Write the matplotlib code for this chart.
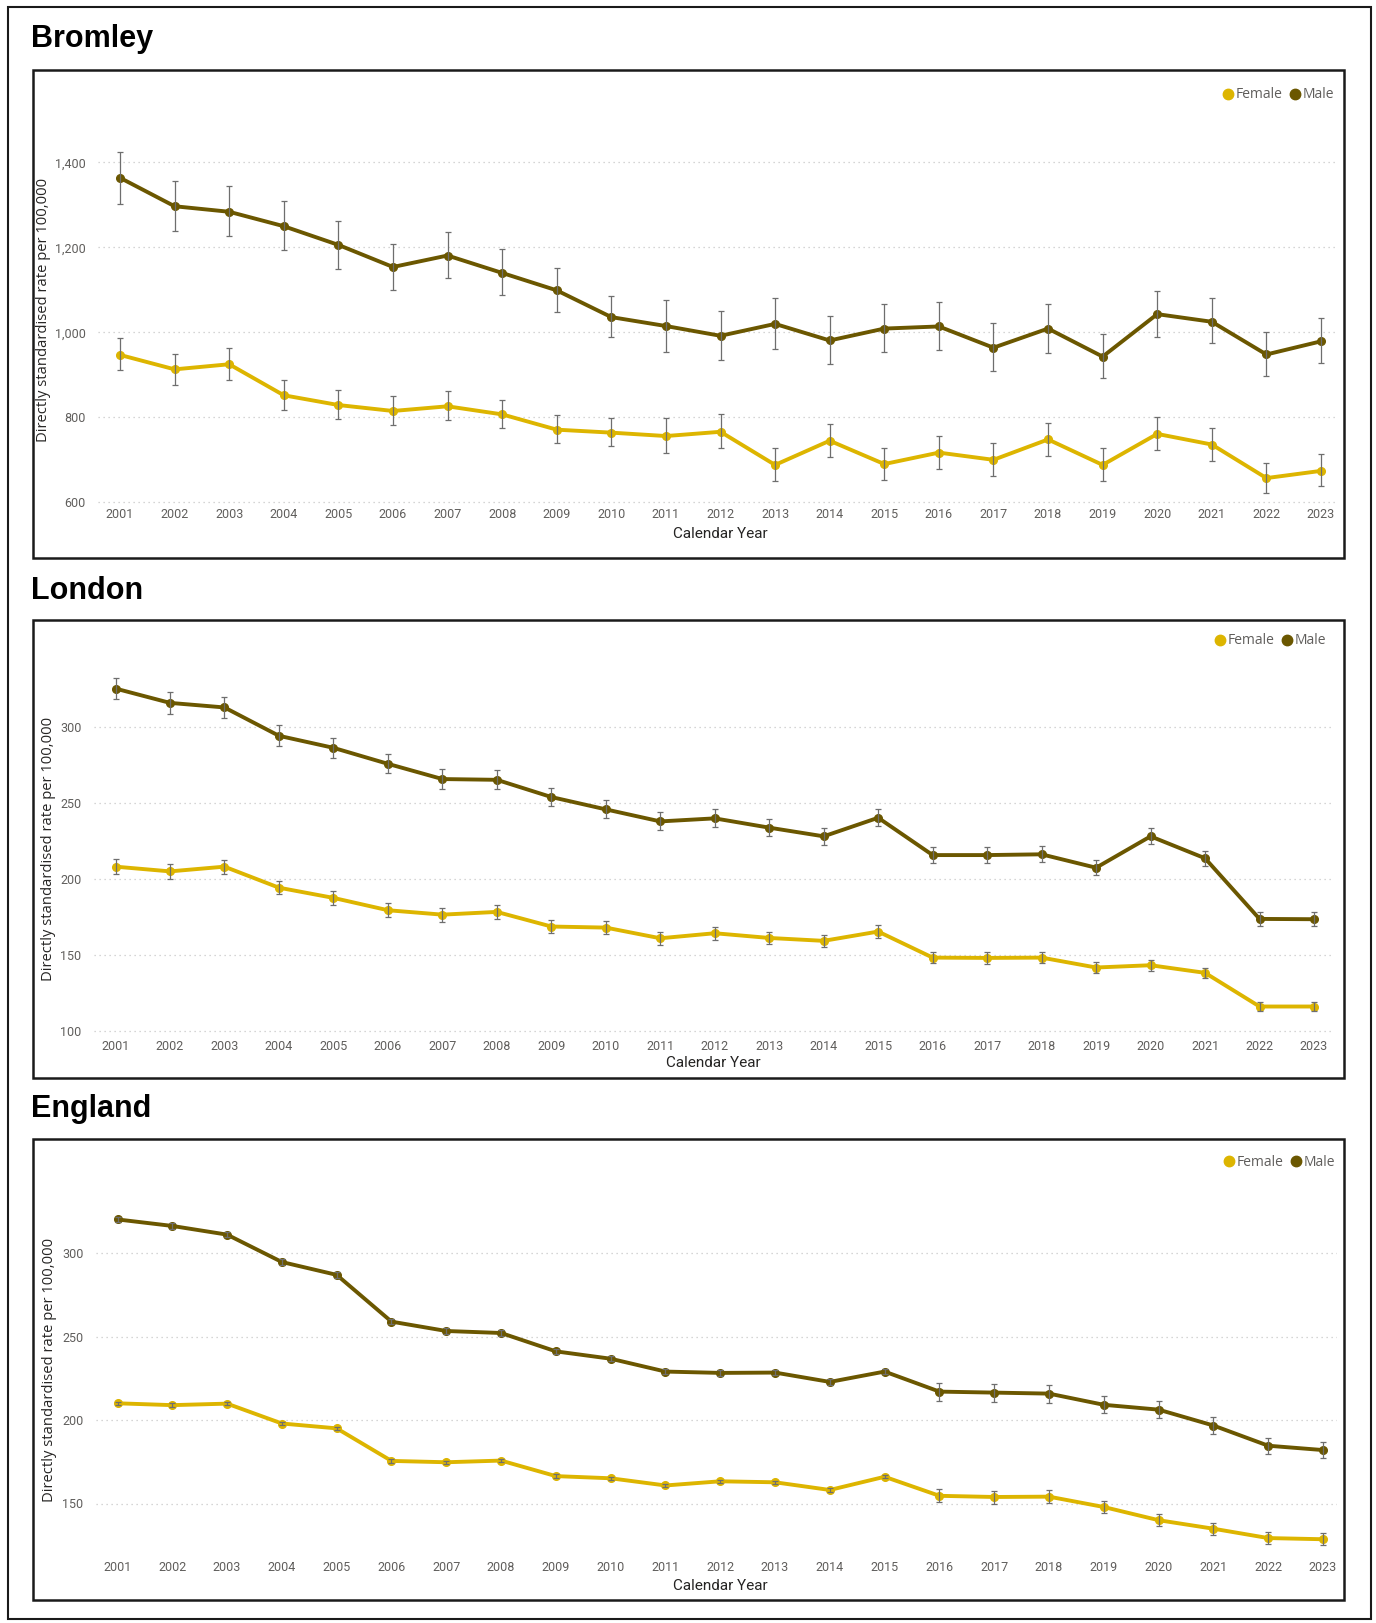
import matplotlib.pyplot as plt
import numpy as np
from matplotlib.lines import Line2D
from matplotlib.patches import Rectangle

years = list(range(2001, 2024))
year_labels = [str(y) for y in years]
series_names = ["Female", "Male"]

# Bromley
bromley_male = [1364, 1297, 1284, 1250, 1206, 1154, 1181, 1140, 1099, 1036, 1015, 992,
                1020, 981, 1009, 1014, 964, 1009, 943, 1043, 1025, 948, 979]
bromley_male_lo = [1303, 1239, 1226, 1193, 1150, 1101, 1128, 1088, 1047, 989, 955, 935,
                   962, 925, 953, 959, 910, 952, 892, 988, 976, 897, 927]
bromley_male_hi = [1425, 1356, 1345, 1309, 1263, 1209, 1236, 1196, 1151, 1086, 1076, 1051,
                   1081, 1038, 1067, 1072, 1021, 1066, 997, 1098, 1081, 1001, 1034]
bromley_female = [947, 913, 925, 852, 829, 815, 826, 807, 771, 764, 756, 766,
                  688, 745, 690, 717, 700, 748, 688, 761, 736, 657, 674]
bromley_female_lo = [911, 877, 889, 818, 796, 782, 793, 774, 740, 732, 716, 727,
                     650, 707, 652, 678, 663, 709, 651, 723, 697, 621, 639]
bromley_female_hi = [986, 950, 963, 887, 865, 850, 861, 841, 805, 798, 798, 808,
                     727, 785, 729, 756, 739, 787, 727, 802, 776, 693, 713]

# London
london_male = [325.1, 315.7, 312.7, 294.1, 286.2, 275.7, 265.7, 265.2, 253.9, 245.8, 237.9, 239.9,
               233.8, 228.1, 240.3, 215.8, 215.8, 216.3, 207.5, 228.1, 213.7, 173.9, 173.7]
london_male_lo = [318, 308.7, 305.7, 287.3, 279.7, 269.4, 259.3, 258.9, 247.8, 239.9, 232.2, 234,
                  228.1, 222.4, 234.6, 210.6, 210.5, 211, 202.5, 222.8, 208.6, 169.3, 169.1]
london_male_hi = [332, 322.7, 319.7, 301, 292.8, 282.3, 272.2, 271.8, 260, 251.9, 244, 245.8,
                  239.7, 233.8, 246.3, 221.3, 221.2, 221.5, 212.8, 233.3, 218.7, 178.5, 178.3]
london_female = [208.2, 205.1, 208.2, 194.4, 187.7, 179.6, 176.7, 178.5, 168.9, 168.2, 161.2, 164.5,
                 161.4, 159.5, 165.6, 148.5, 148.3, 148.5, 142.0, 143.5, 138.5, 116.4, 116.4]
london_female_lo = [203.4, 200.3, 203.2, 190, 183, 175, 172.1, 173.9, 164.5, 163.8, 156.8, 160.1,
                    157.5, 155.5, 161.5, 144.8, 144.6, 144.8, 138.4, 139.9, 135, 113.4, 113.4]
london_female_hi = [213.2, 209.9, 212.6, 199, 192, 184.2, 181.3, 182.8, 173.2, 172.6, 165.6, 168.9,
                    165.5, 163.5, 169.8, 152.3, 152.1, 152.3, 145.7, 147.1, 142, 119.5, 119.5]

# England
england_male = [320.1, 316.2, 311.0, 294.6, 286.9, 258.9, 253.3, 252.1, 241.1, 236.7, 229.0, 228.2,
                228.4, 222.8, 229.0, 217.0, 216.4, 215.8, 209.1, 206.2, 196.7, 184.6, 182.0]
england_male_lo = [318.4, 314.5, 309.3, 292.9, 285.2, 257.3, 251.7, 250.5, 239.5, 235.1, 227.4, 226.6,
                   226.8, 221.2, 227.4, 211.6, 211.0, 210.4, 203.9, 201.0, 191.7, 179.9, 177.4]
england_male_hi = [321.8, 317.9, 312.7, 296.3, 288.6, 260.5, 254.9, 253.7, 242.7, 238.3, 230.6, 229.8,
                   230.0, 224.4, 230.6, 222.4, 221.8, 221.0, 214.3, 211.2, 201.9, 189.4, 186.8]
england_female = [210.0, 208.9, 209.8, 197.9, 195.0, 175.5, 174.7, 175.7, 166.4, 165.1, 160.8, 163.3,
                  162.7, 158.1, 166.0, 154.6, 153.9, 154.1, 147.9, 140.0, 134.9, 129.3, 128.6]
england_female_lo = [209.0, 207.9, 208.8, 196.9, 194.0, 174.5, 173.7, 174.7, 165.4, 164.1, 159.8, 162.3,
                     161.7, 157.1, 165.0, 150.6, 150.0, 150.3, 144.2, 136.3, 131.3, 125.8, 125.3]
england_female_hi = [211.0, 209.9, 210.8, 198.9, 196.0, 176.5, 175.7, 176.7, 167.4, 166.1, 161.8, 164.3,
                     163.7, 159.1, 167.0, 158.5, 157.5, 157.8, 151.5, 143.8, 138.4, 132.8, 132.2]

W, H = 1376, 1623
female_color = "#DDB500"
male_color = "#6B5700"
err_color = "#6E6E6E"
tick_color = "#605E5C"
label_color = "#252423"


def fx(px):
    return px / W


def fy(py):
    return 1 - py / H


def draw_panel(fig, spec):
    # x mapping: 2001 -> spec x01, 2023 -> spec x23 (pixels)
    ppy = (spec["x23"] - spec["x01"]) / 22
    xlim = (2001 - (spec["x01"] - spec["left"]) / ppy, 2023 + (spec["right"] - spec["x23"]) / ppy)
    (va, pa), (vb, pb) = spec["ymap"]
    ppu = (pb - pa) / (va - vb)
    ylo, yhi = spec["ylim"]
    top_px = pa - (yhi - va) * ppu
    bot_px = pb + (vb - ylo) * ppu

    ax = fig.add_axes([fx(spec["left"]), fy(bot_px), fx(spec["right"] - spec["left"]),
                       (bot_px - top_px) / H])
    ax.set_xlim(*xlim)
    ax.set_ylim(ylo, yhi)
    for s in ax.spines.values():
        s.set_visible(False)

    ax.set_yticks(spec["yticks"])
    ax.set_yticklabels([f"{t:,}" for t in spec["yticks"]])
    ax.set_xticks(years)
    ax.set_xticklabels(year_labels)
    ax.tick_params(length=0, labelsize=9, labelcolor=tick_color, pad=spec["xpad"], axis="x")
    ax.tick_params(length=0, labelsize=9, labelcolor=tick_color, pad=spec["ypad"], axis="y")
    for lab in ax.get_xticklabels() + ax.get_yticklabels():
        lab.set_family("Roboto")
    ax.grid(axis="y", color="#C8C8C8", linestyle=(0, (1, 3)), linewidth=0.9)
    ax.set_axisbelow(True)

    data = spec["data"]
    for name, color in zip(series_names, [female_color, male_color]):
        vals, lo, hi = (np.array(a) for a in data[name])
        ax.plot(years, vals, color=color, linewidth=2.8, marker="o", markersize=5.5,
                zorder=3, solid_joinstyle="round")
        ax.errorbar(years, vals, yerr=[vals - lo, hi - vals], fmt="none",
                    ecolor=err_color, elinewidth=0.9, capsize=2.5, capthick=0.9, zorder=4)

    # chart frame
    fig.patches.append(Rectangle((fx(33), fy(spec["box"][1])), fx(1344 - 33),
                                 (spec["box"][1] - spec["box"][0]) / H,
                                 transform=fig.transFigure, fill=False,
                                 edgecolor="#1a1a1a", linewidth=1.8))
    fig.text(fx(31), fy(spec["title_base"]), spec["title"], fontsize=22,
             fontweight="bold", family="Liberation Sans", va="baseline", ha="left")
    fig.text(fx(spec["xlab"][0]), fy(spec["xlab"][1]), "Calendar Year", fontsize=11,
             family="Roboto", color=label_color, ha="center", va="center")
    fig.text(fx(spec["ylab"][0]), fy(spec["ylab"][1]), "Directly standardised rate per 100,000",
             fontsize=10.6, family="Open Sans", color=label_color, rotation=90,
             ha="center", va="center")

    handles = [Line2D([], [], linestyle="none", marker="o", markersize=7.5, color=c)
               for c in [female_color, male_color]]
    leg = ax.legend(handles, series_names, ncol=2, loc="center right",
                    bbox_to_anchor=(fx(spec["leg"][0]), fy(spec["leg"][1])),
                    bbox_transform=fig.transFigure, frameon=False, borderpad=0,
                    handlelength=0.6, handletextpad=0.25, columnspacing=0.6,
                    prop={"family": "Open Sans", "size": 10})
    for t in leg.get_texts():
        t.set_color(tick_color)
    return ax


panels = [
    dict(title="Bromley", title_base=47.5, box=(70, 558), left=98, right=1337,
         x01=120, x23=1321, ymap=((1400, 162.5), (600, 502.3)), ylim=(592, 1600),
         yticks=[600, 800, 1000, 1200, 1400], xpad=2, ypad=9,
         xlab=(720, 534), ylab=(44, 310), leg=(1341, 95),
         data={"Female": (bromley_female, bromley_female_lo, bromley_female_hi),
               "Male": (bromley_male, bromley_male_lo, bromley_male_hi)}),
    dict(title="London", title_base=599, box=(620, 1078), left=94, right=1332,
         x01=115.5, x23=1314, ymap=((300, 726.8), (100, 1031.5)), ylim=(96.5, 345),
         yticks=[100, 150, 200, 250, 300], xpad=2, ypad=9,
         xlab=(713, 1063), ylab=(49, 849), leg=(1333, 641),
         data={"Female": (london_female, london_female_lo, london_female_hi),
               "Male": (london_male, london_male_lo, london_male_hi)}),
    dict(title="England", title_base=1116.5, box=(1139, 1600), left=96, right=1337,
         x01=117.5, x23=1323, ymap=((300, 1253), (150, 1503.5)), ylim=(117, 345),
         yticks=[150, 200, 250, 300], xpad=2, ypad=9,
         xlab=(720, 1586), ylab=(50, 1370), leg=(1342, 1162),
         data={"Female": (england_female, england_female_lo, england_female_hi),
               "Male": (england_male, england_male_lo, england_male_hi)}),
]

fig = plt.figure(figsize=(W / 100, H / 100), dpi=100)
fig.patch.set_facecolor("white")

for spec in panels:
    draw_panel(fig, spec)

# outer frame
fig.patches.append(Rectangle((fx(8), fy(1619)), fx(1371 - 8), (1619 - 7) / H,
                             transform=fig.transFigure, fill=False,
                             edgecolor="#1a1a1a", linewidth=1.5))

fig.savefig("out.png", dpi=100)
